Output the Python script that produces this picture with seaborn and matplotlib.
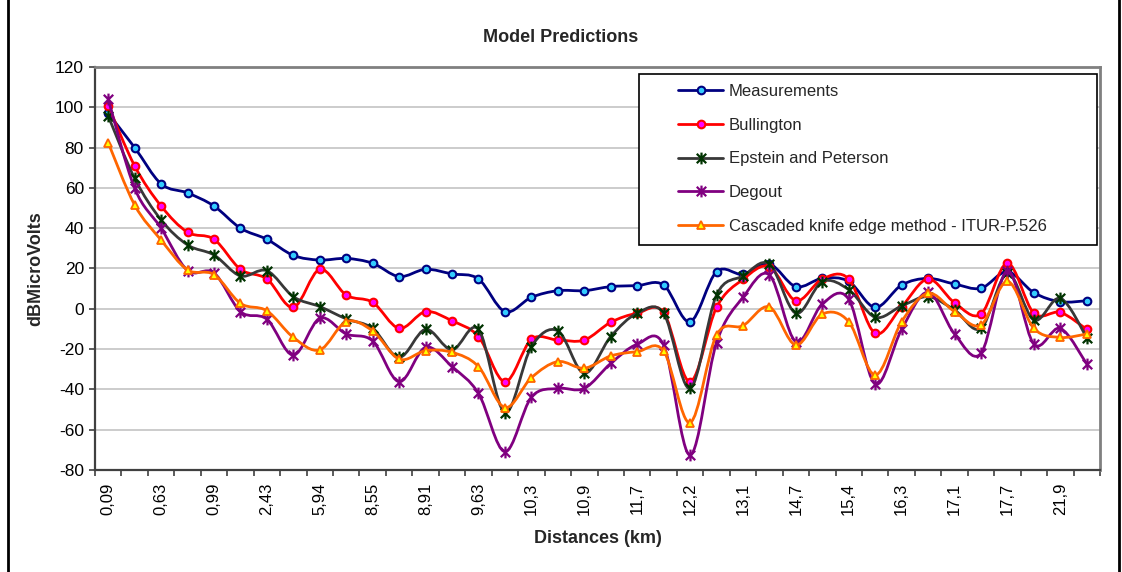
import numpy as np
import matplotlib
matplotlib.use("Agg")
import matplotlib.pyplot as plt
import seaborn as sns
from matplotlib.path import Path
from matplotlib.patches import PathPatch, Rectangle
from matplotlib.lines import Line2D

# Tick labels along the path (every second sample point), km
distance_labels = ["0,09", "0,63", "0,99", "2,43", "5,94", "8,55", "8,91", "9,63",
                   "10,3", "10,9", "11,7", "12,2", "13,1", "14,7", "15,4", "16,3",
                   "17,1", "17,7", "21,9"]

# Field strength per sample point, dBµV
measurements = [97, 80, 62, 57.5, 51, 40, 34.5, 26.5, 24.2, 25,
                22.6, 16, 19.6, 17.3, 14.8, -1.4, 5.7, 9, 9, 11,
                11.5, 11.8, -6.4, 18.4, 17.1, 22.2, 11, 15.1, 13.6, 0.7,
                11.8, 15.1, 12.3, 10.2, 18.4, 8, 3.5, 4]
bullington = [100.8, 70.9, 51, 38, 34.5, 19.6, 14.8, 0.7, 19.6, 6.8,
              3.2, -9.7, -1.4, -6, -13.8, -36.2, -15.2, -15.5, -15.5, -6.7,
              -2.2, -1.8, -36.2, 0.7, 14.6, 20.9, 4, 14.8, 14.8, -12.2,
              1, 14.8, 3, -2.6, 22.6, -2.2, -1.8, -10.2]
epstein_peterson = [95.7, 64.7, 44.1, 31.7, 26.7, 16.3, 18.9, 6, 1.1, -5,
                    -9.7, -24.1, -10.2, -20.4, -10.2, -51.5, -18.8, -10.9, -32, -13.8,
                    -2.2, -2.2, -39.5, 6.8, 16.3, 22.2, -2.2, 13.5, 9.5, -4.2,
                    1.4, 6, -0.6, -9.7, 17.6, -5.6, 5.2, -14.3]
degout = [104, 59.8, 40, 19, 17.8, -1.4, -5.2, -23, -4.7, -12.5,
          -16, -36.2, -19.1, -28.7, -42, -70.9, -43.9, -39.5, -39.5, -27.1,
          -17.6, -18, -72.6, -16.8, 5.7, 16.8, -16.3, 2.4, 4.7, -37.3,
          -10.2, 8.2, -12.5, -22.1, 18.9, -17.5, -9.7, -27.4]
cascaded_knife_edge = [82.4, 51.5, 34.1, 19.3, 17, 2.7, -1, -14.2, -20.4, -6.4,
                       -11, -25, -20.8, -21.6, -28.7, -49, -34.2, -26.2, -29.5, -23.4,
                       -21.3, -20.9, -56.5, -13, -8.4, 0.9, -18, -2.6, -6.4, -32.9,
                       -6.4, 7.7, -1.4, -8, 13.6, -9.7, -14.2, -12.5]

series_names = ["Measurements", "Bullington", "Epstein and Peterson", "Degout",
                "Cascaded knife edge method - ITUR-P.526"]
series_values = [measurements, bullington, epstein_peterson, degout, cascaded_knife_edge]

# Star marker: an X crossed by a vertical stroke
STAR = Path([(-1, -1), (1, 1), (-1, 1), (1, -1), (0, -1.25), (0, 1.25)],
            [Path.MOVETO, Path.LINETO] * 3)

styles = [
    dict(line="#000080", marker="o", ms=5.5, mfc="#33CCFF", mec="#000080", mew=1.5),
    dict(line="#FF0000", marker="o", ms=5.5, mfc="#FF00FF", mec="#FF0000", mew=1.5),
    dict(line="#383838", marker=STAR, ms=8.5, mfc="none", mec="#003300", mew=1.6),
    dict(line="#800080", marker=STAR, ms=8.5, mfc="none", mec="#800080", mew=1.6),
    dict(line="#FF6600", marker="^", ms=5.5, mfc="#FFFF00", mec="#FF6600", mew=1.3),
]


def smooth_path(xs, ys):
    """Cubic Bezier path through the points (Catmull-Rom style tangents)."""
    pts = np.column_stack([xs, ys]).astype(float)
    n = len(pts)
    verts = [pts[0]]
    codes = [Path.MOVETO]
    for i in range(n - 1):
        p0 = pts[i - 1] if i > 0 else pts[i]
        p1, p2 = pts[i], pts[i + 1]
        p3 = pts[i + 2] if i + 2 < n else pts[i + 1]
        verts += [p1 + (p2 - p0) / 6.0, p2 - (p3 - p1) / 6.0, p2]
        codes += [Path.CURVE4] * 3
    return Path(verts, codes)


sns.set_theme(style="white")
plt.rcParams["font.family"] = ["Liberation Sans", "DejaVu Sans"]
plt.rcParams["axes.unicode_minus"] = False

W, H = 1122, 572
fig = plt.figure(figsize=(W / 100, H / 100), dpi=100)
fig.patch.set_facecolor("white")
ax = fig.add_axes([95 / W, 1 - 470 / H, 1005 / W, 403 / H])

positions = np.arange(len(measurements))

for k, (name, vals, st) in enumerate(zip(series_names, series_values, styles)):
    patch = PathPatch(smooth_path(positions, vals), fill=False, edgecolor=st["line"],
                      lw=2.0, zorder=3 + k, capstyle="round", joinstyle="round")
    ax.add_patch(patch)
    sns.lineplot(x=positions, y=vals, ax=ax, linestyle="none", marker=st["marker"],
                 markersize=st["ms"], markerfacecolor=st["mfc"],
                 markeredgecolor=st["mec"], markeredgewidth=st["mew"],
                 color=st["mec"], zorder=3.5 + k, legend=False)

ax.set_xlim(-0.5, len(measurements) - 0.5)
ax.set_ylim(-80, 120)
ax.set_yticks(np.arange(-80, 121, 20))
ax.set_xticks(positions[::2])
ax.set_xticklabels(distance_labels, rotation=90)
ax.set_xticks(np.arange(-0.5, len(measurements), 1.0), minor=True)

ax.set_axisbelow(True)
ax.yaxis.grid(True, color="#C8C8C8", lw=1.3)
ax.xaxis.grid(False)

ax.tick_params(axis="x", which="major", length=0, pad=9, labelsize=12, colors="black")
ax.tick_params(axis="x", which="minor", length=4, width=1.2, color="#404040",
               direction="out", bottom=True)
ax.tick_params(axis="y", length=4, width=1.2, color="#404040", direction="out",
               left=True, pad=4, labelsize=12.5, labelcolor="black")

for side in ("top", "right"):
    ax.spines[side].set_color("#808080")
    ax.spines[side].set_linewidth(2)
for side in ("left", "bottom"):
    ax.spines[side].set_color("#404040")
    ax.spines[side].set_linewidth(1.6)

ax.set_xlabel("Distances (km)", fontsize=13, fontweight="bold")
ax.xaxis.set_label_coords(0.5, (470 - 530) / 403)
ax.set_ylabel("dBMicroVolts", fontsize=13, fontweight="bold")
ax.yaxis.set_label_coords((44 - 95) / 1005, 0.5)

fig.text(0.5, 1 - 37 / H, "Model Predictions", ha="center", va="center",
         fontsize=13, fontweight="bold")

# Legend box and entries
fig.add_artist(Rectangle((639 / W, 1 - 245 / H), (1097 - 639) / W, (245 - 74) / H,
                         transform=fig.transFigure, facecolor="white",
                         edgecolor="black", lw=1.2, zorder=5))
handles = [Line2D([], [], color=st["line"], lw=2.0, marker=st["marker"],
                  markersize=st["ms"], markerfacecolor=st["mfc"],
                  markeredgecolor=st["mec"], markeredgewidth=st["mew"])
           for st in styles]
fig.legend(handles, series_names, loc="upper left",
           bbox_to_anchor=(678 / W, 1 - 84 / H), frameon=False, fontsize=12,
           borderpad=0, borderaxespad=0, handlelength=2.7, handletextpad=0.35,
           labelspacing=1.12).set_zorder(6)

# Outer chart frame
fig.add_artist(Rectangle((8 / W, -0.02), (1119 - 8) / W, 1.04, transform=fig.transFigure,
                         fill=False, edgecolor="black", lw=2, zorder=7))

fig.savefig("out.png", dpi=100, facecolor="white")
